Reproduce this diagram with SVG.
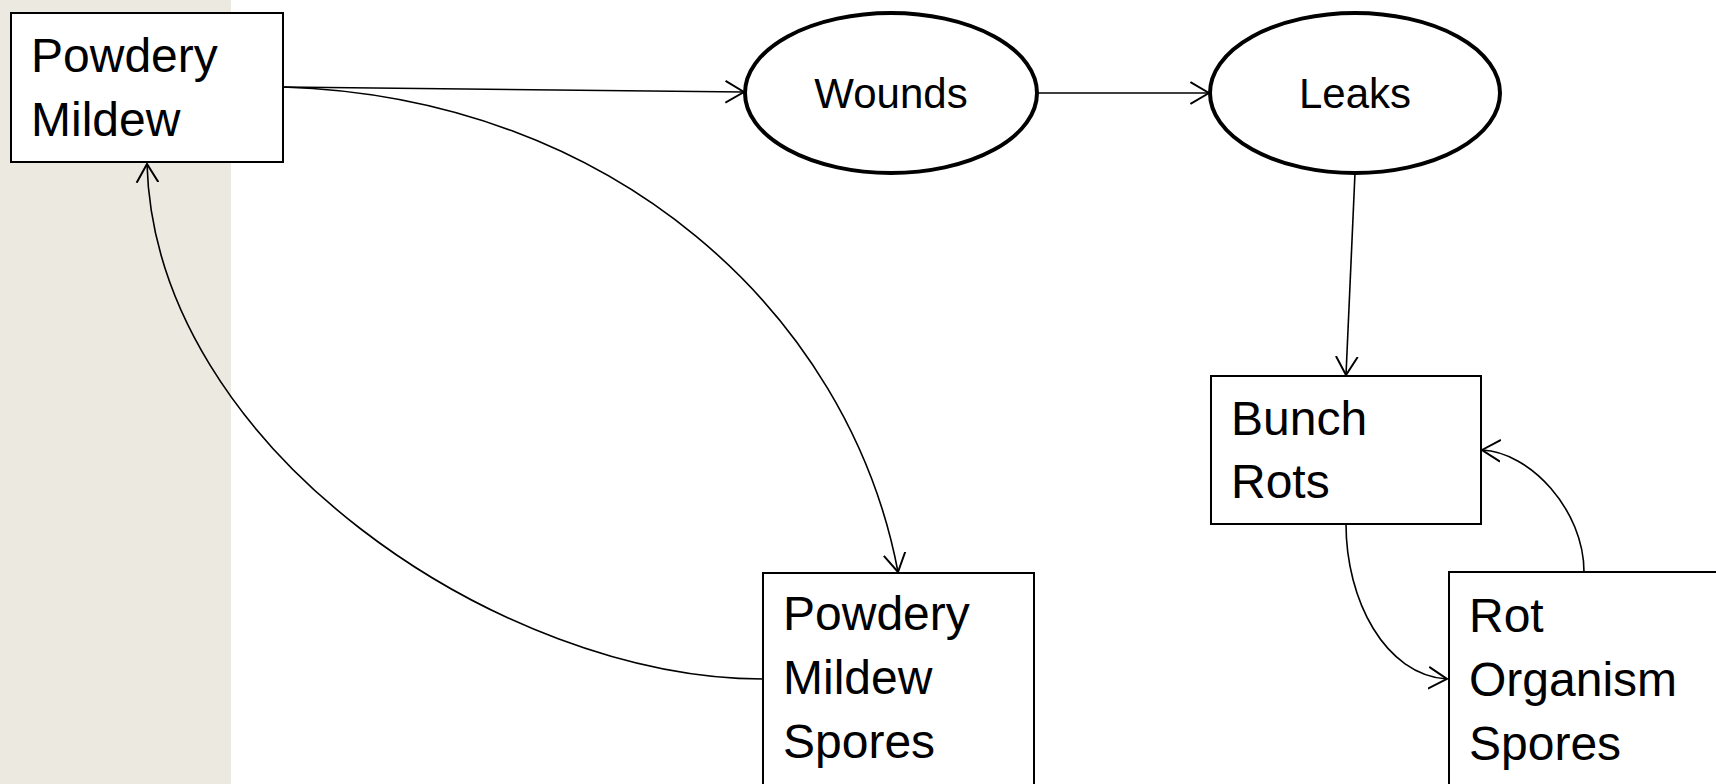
<svg xmlns="http://www.w3.org/2000/svg" width="1716" height="784" viewBox="0 0 1716 784">
<style>
.box{fill:#fff;stroke:#000;stroke-width:2}
.ell{fill:#fff;stroke:#000;stroke-width:4}
.t{font-family:"Liberation Sans",Arial,sans-serif;font-size:48px;fill:#000}
.te{font-family:"Liberation Sans",Arial,sans-serif;font-size:42px;fill:#000;text-anchor:middle}
.c{fill:none;stroke:#000;stroke-width:1.6;marker-end:url(#arr)}
</style>
<defs>
<marker id="arr" markerUnits="userSpaceOnUse" markerWidth="20" markerHeight="24" viewBox="0 0 18 22" refX="17" refY="11" orient="auto">
<path d="M0,1 L17,11 L0,21" fill="none" stroke="#000" stroke-width="1.8"/>
</marker>
</defs>
<rect x="0" y="0" width="1716" height="784" fill="#fff"/>
<rect x="0" y="0" width="231" height="784" fill="#ECEAE0"/>
<g id="connectors">
<path class="c" d="M283,87 L744,92"/>
<path class="c" d="M1037,93 L1209,93"/>
<path class="c" d="M1355,173 L1346,375"/>
<path class="c" d="M283,87 C613,97 849,313 898,572"/>
<path class="c" d="M763,679 C503,679 155,450 147,164"/>
<path class="c" d="M1346,524 C1346,600 1385,675 1447,679"/>
<path class="c" d="M1584,572 C1584,510 1530,452 1482,450"/>
</g>
<g id="powdery-mildew">
<rect class="box" x="11" y="13" width="272" height="149"/>
<text class="t" x="31" y="72">Powdery</text>
<text class="t" x="31" y="136">Mildew</text>
</g>
<g id="wounds">
<ellipse class="ell" cx="891" cy="93" rx="146" ry="80"/>
<text class="te" x="891" y="108">Wounds</text>
</g>
<g id="leaks">
<ellipse class="ell" cx="1355" cy="93" rx="145" ry="80"/>
<text class="te" x="1355" y="108">Leaks</text>
</g>
<g id="bunch-rots">
<rect class="box" x="1211" y="376" width="270" height="148"/>
<text class="t" x="1231" y="435">Bunch</text>
<text class="t" x="1231" y="498">Rots</text>
</g>
<g id="powdery-mildew-spores">
<rect class="box" x="763" y="573" width="271" height="230"/>
<text class="t" x="783" y="630">Powdery</text>
<text class="t" x="783" y="694">Mildew</text>
<text class="t" x="783" y="758">Spores</text>
</g>
<g id="rot-organism-spores">
<rect class="box" x="1449" y="572" width="300" height="230"/>
<text class="t" x="1469" y="632">Rot</text>
<text class="t" x="1469" y="696">Organism</text>
<text class="t" x="1469" y="760">Spores</text>
</g>
</svg>
